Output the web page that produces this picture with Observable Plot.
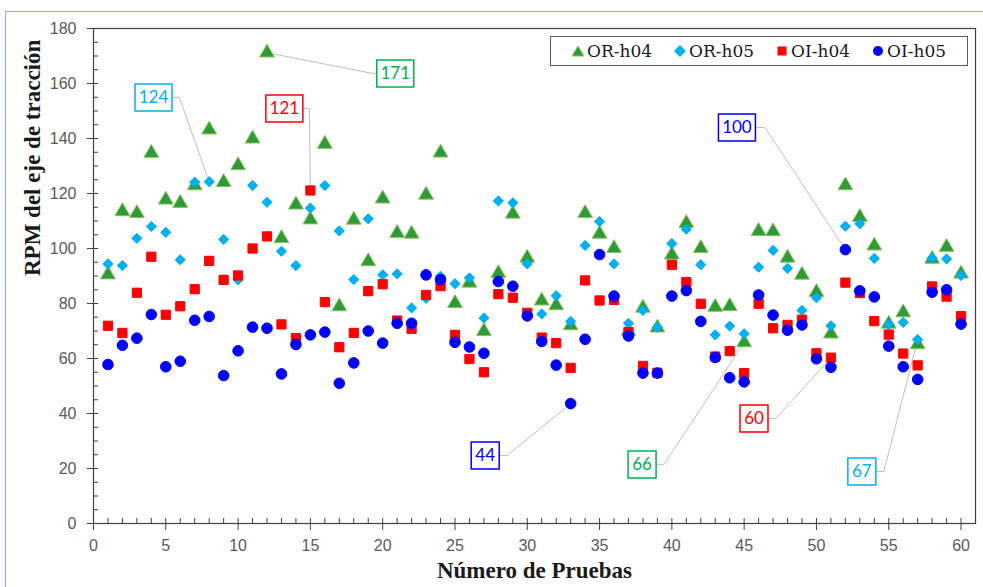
<!DOCTYPE html>
<html>
<head>
<meta charset="utf-8">
<script src="https://cdn.jsdelivr.net/npm/d3@7"></script>
<script src="https://cdn.jsdelivr.net/npm/@observablehq/plot@0.6"></script>
<style>
  html, body { margin: 0; padding: 0; background: #fff; }
  body { width: 983px; height: 587px; overflow: hidden; position: relative; }
  #chart { position: absolute; left: 0; top: 0; }
  #outer { position: absolute; left: 5px; top: 11px; width: 1000px; height: 620px;
           border: 1.5px solid #8faadc; box-sizing: border-box; pointer-events: none; }
  #legend { position: absolute; left: 550px; top: 36px; width: 418px; height: 30px;
            box-sizing: border-box; border: 1px solid #595959; background: #fff;
            display: flex; align-items: center; justify-content: center; gap: 22px;
            font-family: "DejaVu Serif", serif; font-size: 17px; color: #1a1a1a; }
  #legend .item { display: flex; align-items: center; gap: 3px; }
  #legend svg { display: block; }
</style>
</head>
<body>
<div id="chart"></div>
<div id="legend"></div>
<div id="outer"></div>
<script>
// Número de prueba (eje X)
const pruebas = d3.range(1, 61);

// RPM del eje de tracción por prueba
const OR_h04 = [90.5, 113.5, 112.8, 134.7, 117.7, 116.5, 122.9, 143.2, 124.1, 130.2,
                139.9, 171.2, 103.7, 115.9, 110.5, 138.0, 78.9, 110.4, 95.3, 118.1,
                105.6, 105.3, 119.5, 134.8, 80.1, 87.5, 69.9, 91.0, 112.6, 96.6,
                81.0, 79.3, 72.0, 112.8, 105.3, 100.1, 70.0, 78.4, 71.2, 97.7,
                109.2, 100.1, 78.7, 79.0, 65.8, 106.3, 106.2, 96.6, 90.4, 84.1,
                69.0, 122.9, 111.4, 101.0, 72.6, 76.7, 65.1, 96.2, 100.5, 90.8];
const OR_h05 = [94.4, 93.8, 103.7, 108.0, 105.9, 95.9, 124.1, 124.3, 103.3, 88.6,
                122.9, 116.8, 99.0, 93.8, 114.7, 122.9, 106.4, 88.7, 110.8, 90.4,
                90.8, 78.4, 81.9, 89.9, 87.2, 89.3, 74.7, 117.3, 116.6, 94.4,
                76.2, 82.8, 73.5, 101.1, 109.8, 94.4, 72.8, 77.5, 71.4, 101.8,
                107.0, 94.1, 68.6, 71.8, 69.0, 93.2, 99.3, 92.8, 77.5, 82.1,
                71.9, 108.1, 109.0, 96.4, 72.4, 73.1, 66.9, 96.5, 96.2, 90.2];
const OI_h04 = [71.9, 69.3, 83.9, 97.0, 75.9, 79.0, 85.2, 95.5, 88.6, 90.2,
                100.0, 104.4, 72.4, 67.4, 121.1, 80.5, 64.1, 69.3, 84.5, 87.0,
                73.8, 70.8, 83.1, 86.3, 68.6, 59.8, 55.0, 83.4, 82.1, 76.6,
                67.6, 65.6, 56.6, 88.4, 81.1, 81.3, 69.6, 57.3, 54.8, 94.1,
                87.8, 79.9, 60.7, 62.7, 54.7, 79.9, 71.0, 72.2, 74.1, 61.9,
                60.3, 87.6, 83.8, 73.6, 68.7, 61.8, 57.5, 86.2, 82.5, 75.4];
const OI_h05 = [57.8, 64.8, 67.4, 76.0, 57.0, 59.0, 73.9, 75.3, 53.8, 62.8,
                71.4, 71.0, 54.4, 65.1, 68.6, 69.6, 51.0, 58.4, 70.0, 65.6,
                72.8, 72.8, 90.4, 88.7, 65.9, 64.2, 61.9, 88.0, 86.3, 75.5,
                66.2, 57.6, 43.6, 67.0, 97.8, 82.7, 68.2, 54.7, 54.7, 82.7,
                84.7, 73.5, 60.4, 53.0, 51.5, 83.1, 75.8, 70.3, 72.2, 59.9,
                56.8, 99.6, 84.6, 82.4, 64.5, 57.0, 52.4, 84.1, 85.0, 72.5];

// Ticks
const xMajor = d3.range(0, 61, 5);
const xMinor = d3.range(0, 61, 1);
const yMajor = d3.range(0, 181, 20);
const yMinor = d3.range(0, 181, 5);

// Series style (drawing order = legend order)
const series = [
  {name: "OR-h04", values: OR_h04, symbol: "triangle", fill: "#2f9a3a", stroke: "#8cc45c", r: 5.5},
  {name: "OR-h05", values: OR_h05, symbol: "diamond2", fill: "#00b0f0", stroke: "#00b0f0", r: 4.6},
  {name: "OI-h04", values: OI_h04, symbol: "square",   fill: "#ff0000", stroke: "#ff0000", r: 5.2},
  {name: "OI-h05", values: OI_h05, symbol: "circle",   fill: "#0000ff", stroke: "#0000ff", r: 5.3}
];

// Callouts: series, test number, box position and elbow (data units), colour
const callouts = [
  {serie: "OR-h05", n: 8,  bx: 4.15,  by: 154.9, ex: 5.94,  color: "#00b0f0"},
  {serie: "OI-h04", n: 15, bx: 13.2,  by: 150.9, ex: 14.93, color: "#ff0000"},
  {serie: "OR-h04", n: 12, bx: 20.87, by: 163.6, ex: 19.35, color: "#00b050"},
  {serie: "OI-h05", n: 33, bx: 27.09, by: 24.7,  ex: 28.6,  color: "#0000ff"},
  {serie: "OR-h04", n: 45, bx: 37.94, by: 21.5,  ex: 39.46, color: "#00b050"},
  {serie: "OI-h05", n: 52, bx: 44.5,  by: 144.0, ex: 46.44, color: "#0000ff"},
  {serie: "OI-h04", n: 51, bx: 45.68, by: 38.2,  ex: 47.2,  color: "#ff0000"},
  {serie: "OR-h05", n: 57, bx: 53.14, by: 18.9,  ex: 54.66, color: "#00b0f0"}
];

const byName = Object.fromEntries(series.map(s => [s.name, s]));
const calloutRows = callouts.map((c, i) => {
  const v = byName[c.serie].values[c.n - 1];
  return {...c, id: i, px: c.n, py: v, label: String(Math.round(v))};
});
const leaderPts = calloutRows.flatMap(c => [
  {id: c.id, x: c.bx, y: c.by},
  {id: c.id, x: c.ex, y: c.by},
  {id: c.id, x: c.px, y: c.py}
]);

// Rectangular frame symbol for callout boxes, sized by label length
const boxSymbol = (w, h) => ({draw(ctx) { ctx.rect(-w / 2, -h / 2, w, h); }});
const box3 = boxSymbol(37, 27);
const box2 = boxSymbol(28, 27);

const tickFont = '"Liberation Sans", Arial, sans-serif';
const titleFont = '"Liberation Serif", "DejaVu Serif", serif';

const marks = [
  // minor ticks pointing into the plot
  Plot.axisX(xMinor, {tickSize: -5, tickFormat: () => "", label: null, stroke: "#404040"}),
  Plot.axisY(yMinor, {tickSize: -5, tickFormat: () => "", label: null, stroke: "#404040"}),
  // major ticks with labels
  Plot.axisX(xMajor, {tickSize: 7, tickPadding: 9, label: null, stroke: "#404040", fill: "#595959"}),
  Plot.axisY(yMajor, {tickSize: 6, tickPadding: 11, label: null, stroke: "#404040", fill: "#595959"}),
  Plot.frame({stroke: "#404040", strokeWidth: 1.2}),
  // leader lines behind the points
  Plot.line(leaderPts, {x: "x", y: "y", z: "id", stroke: "#bfbfbf", strokeWidth: 1})
];

for (const s of series) {
  marks.push(Plot.dot(s.values, {
    x: (d, i) => pruebas[i], y: d => d,
    symbol: s.symbol, r: s.r, fill: s.fill, stroke: s.stroke, strokeWidth: 1
  }));
}

marks.push(
  Plot.dot(calloutRows, {x: "bx", y: "by", symbol: d => d.label.length > 2 ? box3 : box2,
    r: 10, fill: "white", stroke: "color", strokeWidth: 1.5}),
  Plot.text(calloutRows, {x: "bx", y: "by", text: "label", fill: "color",
    fontFamily: "Lato, 'Open Sans', sans-serif", fontSize: 17}),
  Plot.text(["Número de Pruebas"], {frameAnchor: "bottom", dy: 54, fontFamily: titleFont,
    fontWeight: "bold", fontSize: 23, fill: "#1a1a1a"}),
  Plot.text(["RPM del eje de tracción"], {frameAnchor: "left", dx: -61, rotate: -90,
    fontFamily: titleFont, fontWeight: "bold", fontSize: 23, fill: "#1a1a1a"})
);

const chart = Plot.plot({
  width: 983,
  height: 587,
  marginLeft: 93,
  marginRight: 8,
  marginTop: 28,
  marginBottom: 64,
  style: {fontFamily: tickFont, fontSize: "16px", background: "transparent", overflow: "visible"},
  x: {domain: [0, 61], ticks: [], axis: null},
  y: {domain: [0, 180], axis: null},
  symbol: {type: "identity"},
  marks
});
document.getElementById("chart").appendChild(chart);

// Legend
const legend = document.getElementById("legend");
const symPath = {
  "triangle": (s) => `<polygon points="6,1 12,11 0,11" fill="${s.fill}" stroke="${s.stroke}" stroke-width="1"/>`,
  "diamond2": (s) => `<polygon points="6,0 12,6 6,12 0,6" fill="${s.fill}"/>`,
  "square":   (s) => `<rect x="1.5" y="1.5" width="9" height="9" fill="${s.fill}"/>`,
  "circle":   (s) => `<circle cx="6" cy="6" r="5" fill="${s.fill}"/>`
};
for (const s of series) {
  const item = document.createElement("div");
  item.className = "item";
  item.innerHTML = `<svg width="12" height="12" viewBox="0 0 12 12">${symPath[s.symbol](s)}</svg><span>${s.name}</span>`;
  legend.appendChild(item);
}
</script>
</body>
</html>
